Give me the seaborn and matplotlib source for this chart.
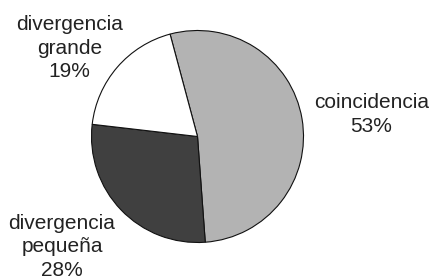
import matplotlib
matplotlib.use("Agg")
import matplotlib.pyplot as plt
import seaborn as sns

# chart data
labels = ["coincidencia", "divergencia\npequeña", "divergencia\ngrande"]
shares = [53, 28, 19]
colors = ["#b3b3b3", "#404040", "#ffffff"]

sns.set_theme(style="white")
plt.rcParams["font.family"] = ["Liberation Sans", "DejaVu Sans"]

fig = plt.figure(figsize=(4.34, 2.76), dpi=100)
# pie centre at (197.5, 136.5) px, radius 106 px
cx, cy, r = 197.5, 136.5, 106
ax = fig.add_axes([(cx - r) / 434, (276 - cy - r) / 276, 2 * r / 434, 2 * r / 276])

ax.pie(shares, colors=colors, startangle=105, counterclock=False,
       wedgeprops=dict(edgecolor="#111111", linewidth=0.8))
ax.set_xlim(-1, 1)
ax.set_ylim(-1, 1)
ax.set_aspect("equal")
ax.axis("off")

# label positions (centre x, top y) in pixels, converted to data units
label_px = [(371.5, 93), (62, 214), (69.5, 15)]
for lab, val, (px, py) in zip(labels, shares, label_px):
    ax.text((px - cx) / r, (cy - py) / r, f"{lab}\n{val}%", ha="center", va="top",
            fontsize=15, color="#222222", linespacing=1.3)

fig.savefig("out.png", dpi=100)
